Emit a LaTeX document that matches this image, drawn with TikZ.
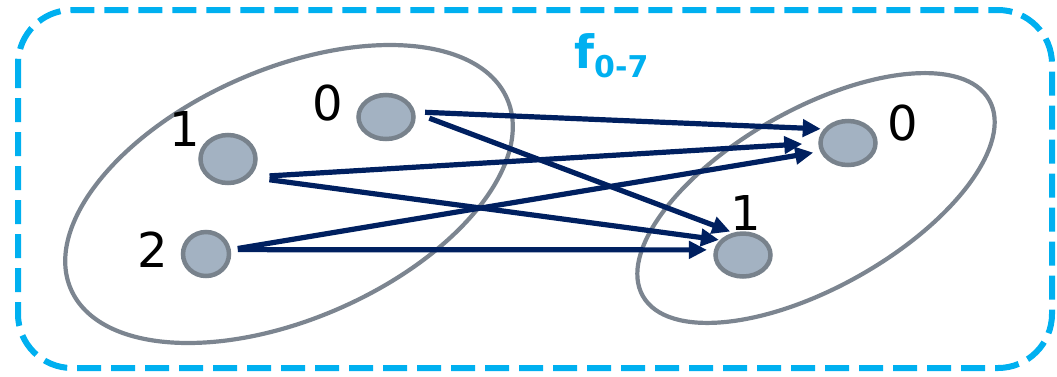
\documentclass[tikz,border=0pt]{standalone}
\usepackage{fontspec}
\setmainfont{DejaVu Sans}
\usepackage{tikz}
\usetikzlibrary{arrows.meta,positioning,shapes.geometric}
\definecolor{Frame}{HTML}{00B0F0}
\definecolor{Oval}{HTML}{7C8590}
\definecolor{ElemFill}{HTML}{A3B2C2}
\definecolor{ElemEdge}{HTML}{78828C}
\definecolor{MapBlue}{HTML}{002060}
\tikzset{
  elemnode/.style={
    ellipse,
    draw=ElemEdge,
    fill=ElemFill,
    line width=4.5pt,
    minimum width=55pt,
    minimum height=44pt,
    inner sep=0pt
  },
  elemlabel/.style={
    inner sep=0pt,
    font=\fontsize{48}{50}\selectfont,
    text=black
  },
  setoval/.style={
    draw=Oval,
    line width=4.2pt
  },
  maparrow/.style={
    -{Triangle[length=18pt, width=17pt]},
    line width=5.2pt,
    draw=MapBlue
  },
  framebox/.style={
    draw=Frame,
    line width=6pt,
    dash pattern=on 24pt off 10pt,
    rounded corners=54pt
  }
}

\begin{document}
\begin{tikzpicture}[x=1pt, y=-1pt]
\useasboundingbox (0,0) rectangle (1057,376);
\draw[framebox] (18,10) rectangle (1052,368);
\node[anchor=base west, inner sep=0pt, text=Frame, font=\fontsize{46}{48}\selectfont\bfseries] (fname) at (574,68)
  {f\raisebox{-9pt}{\fontsize{30}{32}\selectfont 0-7}};
% domain and codomain
\draw[setoval, rotate around={23.6:(289,194)}] (289,194) ellipse [x radius=238, y radius=125];
\draw[setoval, rotate around={29.5:(816,198)}] (816,198) ellipse [x radius=199, y radius=89];
\node[elemnode] (l0) at (386,117) {};
\node[elemnode, minimum height=48pt] (l1) at (228,159) {};
\node[elemnode, minimum width=46pt] (l2) at (206,254) {};
\node[elemnode] (r0) at (848,143) {};
\node[elemnode, minimum height=43pt] (r1) at (743,255) {};
\node[elemlabel] (l0num) at (328,103) {0};
\node[elemlabel] (l1num) at (185,129) {1};
\node[elemlabel] (l2num) at (153,250) {2};
\node[elemlabel] (r0num) at (903,123) {0};
\node[elemlabel] (r1num) at (746,213) {1};
% mappings
\draw[maparrow, shorten <=10pt, shorten >=3pt] (l0.10) -- (r0.150);
\draw[maparrow, shorten <=15pt, shorten >=3pt] (l0.8) -- (r1.114);
\draw[maparrow, shorten <=20pt, shorten >=16pt] (l1.-40) -- (r0.west);
\draw[maparrow, shorten <=20pt, shorten >=1pt] (l1.-40) -- (r1.147);
\draw[maparrow, shorten <=7pt, shorten >=7pt] (l2.10) -- (r0.197);
\draw[maparrow, shorten <=7pt, shorten >=7pt] (l2.10) -- (r1.170);
\end{tikzpicture}
\end{document}
